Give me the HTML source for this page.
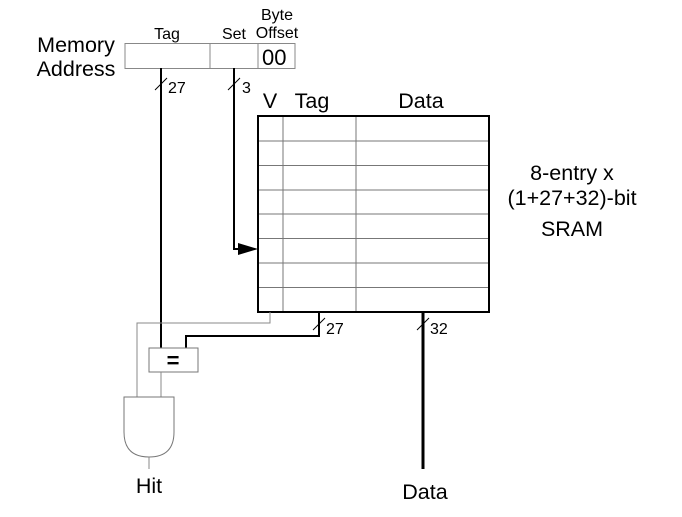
<!DOCTYPE html>
<html><head><style>
html,body{margin:0;padding:0;background:#fff;}
svg text{font-family:"Liberation Sans",Arial,sans-serif;fill:#000;}
</style></head><body>
<svg width="682" height="512" viewBox="0 0 682 512" xmlns="http://www.w3.org/2000/svg">
<!-- address -->
<text x="76" y="52" font-size="21.5" text-anchor="middle">Memory</text>
<text x="76" y="76" font-size="21.5" text-anchor="middle">Address</text>
<text x="167" y="39" font-size="16" text-anchor="middle">Tag</text>
<text x="234" y="39" font-size="16" text-anchor="middle">Set</text>
<text x="277" y="20" font-size="16" text-anchor="middle">Byte</text>
<text x="277" y="38" font-size="16" text-anchor="middle">Offset</text>
<rect x="125" y="43.5" width="170" height="25" fill="none" stroke="#888" stroke-width="1"/>
<line x1="210" y1="43.5" x2="210" y2="68.5" stroke="#888"/>
<line x1="258" y1="43.5" x2="258" y2="68.5" stroke="#888"/>
<text x="262" y="65" font-size="22">00</text>
<!-- tag line -->
<line x1="161" y1="68" x2="161" y2="348" stroke="#000" stroke-width="2"/>
<line x1="155" y1="90" x2="167" y2="78" stroke="#000" stroke-width="1"/>
<text x="168" y="93" font-size="16">27</text>
<!-- set line -->
<polyline points="234,68 234,249 240,249" fill="none" stroke="#000" stroke-width="2"/>
<line x1="228" y1="90" x2="240" y2="78" stroke="#000" stroke-width="1"/>
<text x="242" y="93" font-size="16">3</text>
<polygon points="238,243 258,249 238,255" fill="#000"/>
<!-- SRAM -->
<text x="270" y="108" font-size="21.5" text-anchor="middle">V</text>
<text x="312" y="108" font-size="21.5" text-anchor="middle">Tag</text>
<text x="421" y="108" font-size="21.5" text-anchor="middle">Data</text>
<g stroke="#777" stroke-width="1">
<line x1="258" y1="141" x2="489" y2="141"/>
<line x1="258" y1="165.5" x2="489" y2="165.5"/>
<line x1="258" y1="190" x2="489" y2="190"/>
<line x1="258" y1="214" x2="489" y2="214"/>
<line x1="258" y1="238.5" x2="489" y2="238.5"/>
<line x1="258" y1="263" x2="489" y2="263"/>
<line x1="258" y1="287.5" x2="489" y2="287.5"/>
<line x1="283" y1="116" x2="283" y2="312"/>
<line x1="356" y1="116" x2="356" y2="312"/>
</g>
<rect x="258" y="116" width="231" height="196" fill="none" stroke="#000" stroke-width="2"/>
<text x="572" y="180" font-size="21.5" text-anchor="middle">8-entry x</text>
<text x="572" y="205" font-size="21.5" text-anchor="middle">(1+27+32)-bit</text>
<text x="572" y="236" font-size="21.5" text-anchor="middle">SRAM</text>
<!-- valid line -->
<polyline points="270,312 270,323 137,323 137,397" fill="none" stroke="#888" stroke-width="1"/>
<!-- tag out -->
<polyline points="319,312 319,336 186,336 186,348" fill="none" stroke="#000" stroke-width="2"/>
<line x1="313" y1="330" x2="325" y2="318" stroke="#000" stroke-width="1"/>
<text x="326" y="334" font-size="16">27</text>
<!-- data out -->
<line x1="423" y1="312" x2="423" y2="469" stroke="#000" stroke-width="3"/>
<line x1="417" y1="330" x2="429" y2="318" stroke="#000" stroke-width="1"/>
<text x="430" y="334" font-size="16">32</text>
<text x="425" y="499" font-size="21.5" text-anchor="middle">Data</text>
<!-- comparator -->
<rect x="149" y="348" width="49" height="24" fill="#fff" stroke="#777" stroke-width="1"/>
<text x="173" y="368" font-size="22" font-weight="bold" text-anchor="middle">=</text>
<line x1="161" y1="372" x2="161" y2="397" stroke="#888" stroke-width="1"/>
<!-- AND -->
<path d="M124,397 L174,397 L174,432 Q174,457 149,457 Q124,457 124,432 Z" fill="#fff" stroke="#777" stroke-width="1"/>
<line x1="149" y1="457" x2="149" y2="469" stroke="#888" stroke-width="1"/>
<text x="149" y="493" font-size="21.5" text-anchor="middle">Hit</text>
</svg>
</body></html>
